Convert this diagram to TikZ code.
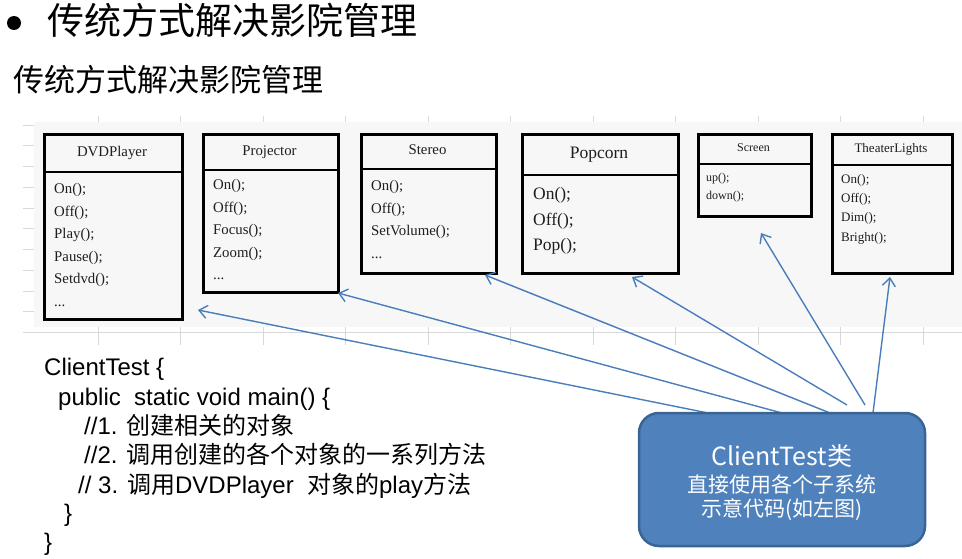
\documentclass[tikz,border=0pt]{standalone}
\usepackage{fontspec}
\setmainfont{Liberation Serif}
\newfontfamily\cjk{Noto Sans CJK SC}
\newfontfamily\arialf{Liberation Sans}
\usetikzlibrary{arrows.meta,calc}
\definecolor{panelbg}{HTML}{F7F7F7}
\definecolor{gridc}{HTML}{D9D9D9}
\definecolor{arrowc}{HTML}{4A7EBB}
\definecolor{boxfill}{HTML}{4F81BD}
\definecolor{boxedge}{HTML}{3A6494}
\definecolor{txt}{HTML}{1E1E1E}
\tikzset{
  umlbox/.style={draw=black, line width=2.6pt, fill=panelbg, inner sep=0pt, anchor=north west},
  divider/.style={draw=black, line width=2.6pt},
  item/.style={anchor=west, inner sep=0pt, text=txt, execute at begin node=\strut},
  headtxt/.style={inner sep=0pt, text=txt, execute at begin node=\strut},
  fa/.style={font=\fontsize{14.8}{17.8}\selectfont},
  fb/.style={font=\fontsize{17.5}{21}\selectfont},
  fc/.style={font=\fontsize{12}{14.4}\selectfont},
  fd/.style={font=\fontsize{13}{15.6}\selectfont},
  codeline/.style={anchor=base west, inner sep=0pt, font=\arialf\fontsize{24}{28}\selectfont},
  link/.style={draw=arrowc, line width=1.4pt, -{Straight Barb[length=8pt,width=13pt,line width=1.4pt]}},
}
\begin{document}
\begin{tikzpicture}[x=1pt,y=-1pt]
\useasboundingbox (0,0) rectangle (962,559);
% title
\fill (14,23) circle (7pt);
\node[anchor=west, inner sep=0pt, font=\cjk\fontsize{37}{41}\selectfont] (title) at (47,20) {传统方式解决影院管理};
\node[anchor=west, inner sep=0pt, font=\cjk\fontsize{31}{35}\selectfont] (subtitle) at (13,80) {传统方式解决影院管理};
% grid and panel
\foreach \k in {0,...,10} \draw[gridc, line width=0.9pt] ({98+82.5*\k},116) -- ({98+82.5*\k},345);
\fill[panelbg] (34,122) rectangle (962,327);
\foreach \k in {0,...,9} \draw[gridc, line width=0.9pt] (23,{125+20.75*\k}) -- (34,{125+20.75*\k});
\draw[gridc, line width=0.9pt] (23,332) -- (962,332);
% DVDPlayer
\node[umlbox, minimum width=138pt, minimum height=185pt] (dvd) at (43,133) {};
\draw[divider] (43,172) -- (181,172);
\node[headtxt, fa] (dvdh) at (112,152.5) {DVDPlayer};
\node[item, fa] (dvd1) at (54,190) {On();};
\node[item, fa] (dvd2) at (54,212.5) {Off();};
\node[item, fa] (dvd3) at (54,235) {Play();};
\node[item, fa] (dvd4) at (54,257.5) {Pause();};
\node[item, fa] (dvd5) at (54,280) {Setdvd();};
\node[item, fa] (dvd6) at (54,302.5) {...};
% Projector
\node[umlbox, minimum width=135pt, minimum height=158pt] (proj) at (202,133) {};
\draw[divider] (202,170) -- (337,170);
\node[headtxt, fa] (projh) at (269.5,151.5) {Projector};
\node[item, fa] (proj1) at (213,186) {On();};
\node[item, fa] (proj2) at (213,208.5) {Off();};
\node[item, fa] (proj3) at (213,231) {Focus();};
\node[item, fa] (proj4) at (213,253.5) {Zoom();};
\node[item, fa] (proj5) at (213,276) {...};
% Stereo
\node[umlbox, minimum width=135pt, minimum height=139pt] (ster) at (360,133) {};
\draw[divider] (360,169) -- (495,169);
\node[headtxt, fa] (sterh) at (427.5,151) {Stereo};
\node[item, fa] (ster1) at (371,187) {On();};
\node[item, fa] (ster2) at (371,209.5) {Off();};
\node[item, fa] (ster3) at (371,232) {SetVolume();};
\node[item, fa] (ster4) at (371,254.5) {...};
% Popcorn
\node[umlbox, minimum width=156pt, minimum height=139pt] (pop) at (521,133) {};
\draw[divider] (521,175) -- (677,175);
\node[headtxt, fb] (poph) at (599,154) {Popcorn};
\node[item, fb] (pop1) at (533,195) {On();};
\node[item, fb] (pop2) at (533,221) {Off();};
\node[item, fb] (pop3) at (533,246) {Pop();};
% Screen
\node[umlbox, minimum width=113pt, minimum height=82pt] (scr) at (697,133) {};
\draw[divider] (697,164) -- (810,164);
\node[headtxt, fc] (scrh) at (753.5,148.5) {Screen};
\node[item, fc] (scr1) at (706,179) {up();};
\node[item, fc] (scr2) at (706,197) {down();};
% TheaterLights
\node[umlbox, minimum width=120pt, minimum height=139pt] (tl) at (831,133) {};
\draw[divider] (831,165) -- (951,165);
\node[headtxt, fd] (tlh) at (891,149) {TheaterLights};
\node[item, fd] (tl1) at (841,180) {On();};
\node[item, fd] (tl2) at (841,199) {Off();};
\node[item, fd] (tl3) at (841,218.5) {Dim();};
\node[item, fd] (tl4) at (841,238) {Bright();};
% code
\node[codeline] (c1) at (44,375) {ClientTest \{};
\node[codeline] (c2) at (58,405) {public\ \ static void main() \{};
\node[codeline] (c3) at (84,434) {//1. {\cjk 创建相关的对象}};
\node[codeline] (c4) at (84,463) {//2. {\cjk 调用创建的各个对象的一系列方法}};
\node[codeline] (c5) at (78,493) {// 3. {\cjk 调用}DVDPlayer\ \ {\cjk 对象的}play{\cjk 方法}};
\node[codeline] (c6) at (64,521) {\}};
\node[codeline] (c7) at (44,550) {\}};
% arrow ends
\coordinate (s1) at (708,413);
\coordinate (s2) at (782,413);
\coordinate (s3) at (830,413);
\coordinate (s4) at (847,405);
\coordinate (s5) at (865,405);
\coordinate (s6) at (873,413);
\coordinate (t1) at (198,310);
\coordinate (t2) at (338,293);
\coordinate (t3) at (485,275);
\coordinate (t4) at (632,277);
\coordinate (t5) at (761,233);
\coordinate (t6) at (890,277);
\foreach \i in {1,...,6} \draw[link] (s\i) -- (t\i);
% client box
\node[draw=boxedge, fill=boxfill, line width=2.5pt, rounded corners=20pt, minimum width=286pt, minimum height=133pt, inner sep=0pt] (client) at (782,479.5) {};
\node[inner sep=0pt, text=white, font=\cjk\fontsize{25}{30}\selectfont] (cl1) at (782,456) {ClientTest类};
\node[inner sep=0pt, text=white, font=\cjk\fontsize{21}{25}\selectfont] (cl2) at (782,484) {直接使用各个子系统};
\node[inner sep=0pt, text=white, font=\cjk\fontsize{21}{25}\selectfont] (cl3) at (782,510) {示意代码(如左图)};
\end{tikzpicture}
\end{document}
